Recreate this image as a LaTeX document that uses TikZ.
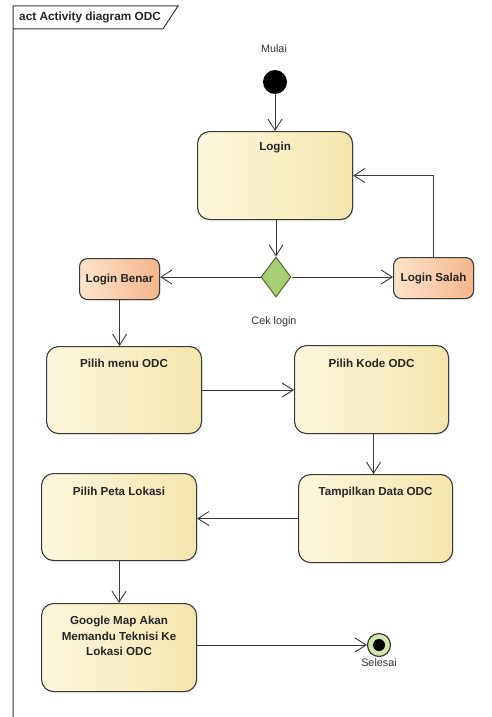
\documentclass[tikz,border=0pt]{standalone}
\usepackage{fontspec}
\setmainfont{Liberation Sans}
\usetikzlibrary{arrows.meta,shapes.geometric,shadows,calc}

\definecolor{lineC}{HTML}{3A3A3A}
\definecolor{actL}{HTML}{FCF7DE}
\definecolor{actR}{HTML}{F3E6AC}
\definecolor{orgL}{HTML}{FDE3CC}
\definecolor{orgR}{HTML}{F5B68A}
\definecolor{decF}{HTML}{A8CD74}
\definecolor{decB}{HTML}{4F6A2A}
\definecolor{endF}{HTML}{D3E6A6}
\definecolor{txtC}{HTML}{333333}

\tikzset{
  x=1pt, y=-1pt,
  flow/.style={draw=lineC, line width=0.9pt,
    -{Straight Barb[length=11pt,width=14pt,line width=0.9pt]}},
  actbox/.style={draw=lineC, line width=1.1pt, rounded corners=12pt,
    left color=actL, right color=actR, inner sep=0pt, anchor=north west,
    drop shadow={shadow xshift=1.5pt, shadow yshift=-1.5pt, opacity=0.12}},
  guardbox/.style={draw=lineC, line width=1.1pt, rounded corners=8pt,
    left color=orgL, right color=orgR, inner sep=0pt, anchor=north west,
    font=\fontsize{11.6}{13}\selectfont\bfseries, text=black!85,
    drop shadow={shadow xshift=1.5pt, shadow yshift=-1.5pt, opacity=0.12}},
  boxtitle/.style={font=\fontsize{11.6}{15.5}\selectfont\bfseries,
    text=black!85, align=center, inner sep=0pt},
  plain/.style={font=\fontsize{10.8}{13}\selectfont, text=txtC, inner sep=0pt},
}

\begin{document}
\begin{tikzpicture}
\useasboundingbox (0,0) rectangle (492,717);
\fill[white] (0,0) rectangle (492,717);

% diagram frame with its name tab
\draw[lineC, line width=1pt] (13,717) -- (13,6) -- (178,6) -- (163,29) -- (13,29);
\node[font=\fontsize{11.8}{13}\selectfont\bfseries, text=black!85, anchor=west, inner sep=0pt]
  (frameName) at (19,17.5) {act Activity diagram ODC};

% initial node
\node[circle, fill=black, minimum size=24pt, inner sep=0pt] (start) at (275,82) {};
\node[plain] (startLbl) at (274,49) {Mulai};

% activities
\node[actbox, minimum width=155pt, minimum height=88pt] (login) at (197,131) {};
\node[boxtitle] (loginT) at ($(login.north)+(0,17)$) {Login};

\node[diamond, draw=decB, line width=1pt, fill=decF, minimum width=30pt,
      minimum height=40pt, inner sep=0pt] (check) at (276,277) {};
\node[plain] (checkLbl) at (274,322) {Cek login};

\node[guardbox, minimum width=80pt, minimum height=41pt] (benar) at (79,258) {Login Benar};
\node[guardbox, minimum width=80pt, minimum height=41pt] (salah) at (393,257) {Login Salah};

\node[actbox, minimum width=155pt, minimum height=87pt] (menu) at (46,346) {};
\node[boxtitle] (menuT) at ($(menu.north)+(0,17)$) {Pilih menu ODC};

\node[actbox, minimum width=154pt, minimum height=88pt] (kode) at (294,345) {};
\node[boxtitle] (kodeT) at ($(kode.north)+(0,18)$) {Pilih Kode ODC};

\node[actbox, minimum width=154pt, minimum height=88pt] (tampil) at (298,474) {};
\node[boxtitle] (tampilT) at ($(tampil.north)+(0,18)$) {Tampilkan Data ODC};

\node[actbox, minimum width=155pt, minimum height=87pt] (peta) at (41,473) {};
\node[boxtitle] (petaT) at ($(peta.north)+(0,18)$) {Pilih Peta Lokasi};

\node[actbox, minimum width=155pt, minimum height=88pt] (google) at (41,603) {};
\node[boxtitle] (googleT) at ($(google.north)+(0,33)$)
  {Google Map Akan\\Memandu Teknisi Ke\\Lokasi ODC};

% final node
\node[circle, draw=lineC, line width=1.2pt, fill=endF, minimum size=23pt, inner sep=0pt]
  (finish) at (379,645) {};
\fill[black] (finish.center) circle (6pt);
\node[plain] (finishLbl) at (379,663) {Selesai};

% control flows
\draw[flow] (start) -- (start |- login.north);
\draw[flow] (login.south -| check.north) -- (check.north);
\draw[flow] (check.east) -- (salah.west |- check.east);
\draw[flow] (check.west) -- (benar.east |- check.west);
\draw[flow] (salah.north) |- (login.east);
\draw[flow] (benar.south) -- (benar.south |- menu.north);
\draw[flow] (menu.east) -- (menu.east -| kode.west);
\draw[flow] ($(kode.south)+(2,0)$) -- ($(kode.south |- tampil.north)+(2,0)$);
\draw[flow] (tampil.west) -- (tampil.west -| peta.east);
\draw[flow] (peta.south) -- (peta.south |- google.north);
\draw[flow] (finish.west -| google.east) -- (finish.west);
\end{tikzpicture}
\end{document}
